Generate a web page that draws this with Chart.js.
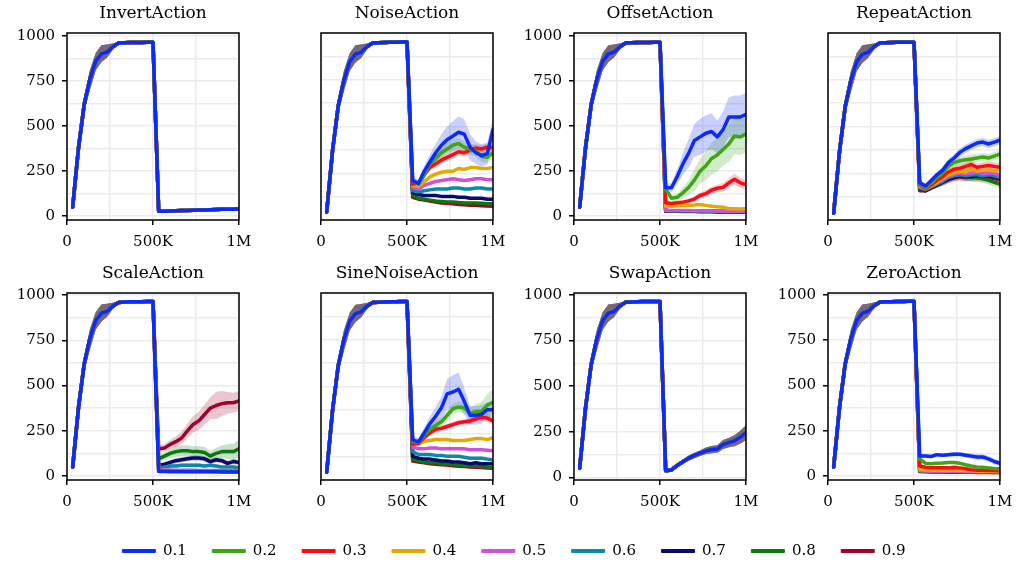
<!DOCTYPE html>
<html><head><meta charset="utf-8">
<script src="https://cdn.jsdelivr.net/npm/chart.js@4.4.0/dist/chart.umd.min.js"></script>
<style>
html,body{margin:0;padding:0;background:#fff;overflow:hidden;width:1018px;height:567px;}
canvas{position:absolute;}
</style></head><body>
<script>
// ---------- data ----------
const STEPS_K = [33,67,100,133,167,200,233,267,300,333,367,400,433,467,500,533,567,600,633,667,700,733,767,800,833,867,900,933,967,1000];
const SERIES = ['0.1','0.2','0.3','0.4','0.5','0.6','0.7','0.8','0.9'];
const COLORS = ['#0a2aff','#3ca614','#ff0a14','#e2aa00','#d050dc','#0a8aaa','#0a0a6e','#0a780a','#a0002a'];

// shared training phase (0 - 500K)
const PRE_MEAN = [50,380,620,760,860,900,910,940,960,962,963,964,964,965,965];
const PRE_LO   = [45,340,580,700,810,855,880,925,954,957,959,960,960,961,961];
const PRE_HI   = [55,420,660,810,905,948,952,958,967,967,968,968,968,969,969];

const THIN = [6,6,6,6,6,6,6,6,6,6,6,6,6,6,6];

// InvertAction (all noise levels overlap)
const INVERT_LINE = [28,28,29,30,31,32,33,34,35,36,37,38,38,39,40];
const INVERT_MEAN = [INVERT_LINE,INVERT_LINE,INVERT_LINE,INVERT_LINE,INVERT_LINE,INVERT_LINE,INVERT_LINE,INVERT_LINE,INVERT_LINE];
const INVERT_SPREAD = [THIN,THIN,THIN,THIN,THIN,THIN,THIN,THIN,THIN];

// NoiseAction
const NOISE_MEAN = [
  [220,205,270,320,370,410,440,460,480,470,400,370,355,365,495],
  [220,200,250,310,340,370,390,410,420,400,390,380,350,345,370],
  [200,210,250,290,310,330,345,360,375,370,385,395,390,400,395],
  [195,190,215,240,255,265,270,270,285,280,290,290,285,285,290],
  [185,175,195,205,215,220,225,230,225,220,225,230,230,225,225],
  [165,160,165,170,175,175,175,180,180,175,175,180,180,175,175],
  [155,145,140,140,140,135,135,135,130,130,125,125,125,120,120],
  [140,125,120,115,110,108,105,105,102,100,100,100,98,95,95],
  [130,120,115,110,105,100,98,95,92,90,88,87,85,83,82]
];
const NOISE_SPREAD = [
  [20,20,30,40,50,60,70,80,85,80,70,60,60,60,60],
  [15,15,20,25,30,30,30,30,30,30,30,30,30,30,30],
  [10,10,15,15,20,20,20,20,20,20,20,20,20,20,20],
  THIN,THIN,THIN,THIN,THIN,THIN
];

// OffsetAction
const OFFSET_MEAN = [
  [158,158,220,290,350,420,440,460,470,440,480,550,550,550,565],
  [150,100,105,130,160,200,250,280,320,340,370,400,445,440,455],
  [75,70,75,78,85,95,115,125,145,155,160,185,205,185,175],
  [55,55,58,60,60,62,65,60,55,52,50,42,42,40,42],
  [33,32,32,31,31,30,30,30,30,29,29,28,28,28,28],
  [30,30,30,29,29,29,28,28,28,27,27,27,26,26,26],
  [29,29,29,28,28,28,27,27,27,26,26,26,25,25,25],
  [28,28,28,27,27,27,26,26,26,25,25,25,25,24,24],
  [27,27,27,26,26,26,25,25,25,24,24,24,24,23,23]
];
const OFFSET_SPREAD = [
  [20,25,40,60,80,90,100,100,100,90,100,110,120,120,120],
  [15,15,20,30,40,60,70,80,90,90,90,100,100,100,100],
  [10,10,10,10,12,15,15,20,20,20,25,25,30,30,25],
  THIN,THIN,THIN,THIN,THIN,THIN
];

// RepeatAction
const REPEAT_MEAN = [
  [213,195,225,255,280,320,345,375,395,410,425,430,420,430,440],
  [205,185,210,240,265,300,320,330,335,340,345,350,345,355,365],
  [200,180,200,225,245,270,285,290,300,310,295,300,305,300,295],
  [195,180,195,215,235,255,265,275,270,285,275,280,280,275,285],
  [190,178,195,210,230,245,260,265,260,265,270,260,265,265,250],
  [185,175,190,205,220,240,250,255,250,255,255,250,255,250,240],
  [180,170,185,200,215,230,240,250,245,245,250,245,250,245,235],
  [175,170,185,200,215,235,245,255,245,240,240,235,225,215,205],
  [170,170,185,200,215,230,240,245,240,245,240,240,240,235,230]
];
const REPEAT_SP = [10,10,12,15,18,20,20,22,22,22,22,22,22,22,22];
const REPEAT_SPREAD = [REPEAT_SP,REPEAT_SP,REPEAT_SP,REPEAT_SP,REPEAT_SP,REPEAT_SP,REPEAT_SP,REPEAT_SP,REPEAT_SP];

// ScaleAction
const SCALE_MEAN = [
  [25,25,24,24,24,24,23,23,23,23,23,22,22,22,22],
  [27,27,26,26,26,25,25,25,25,25,24,24,24,24,24],
  [28,28,28,27,27,27,27,26,26,26,26,26,25,25,25],
  [30,30,30,29,29,29,29,28,28,28,28,28,27,27,27],
  [33,33,33,32,32,32,32,31,31,31,31,30,30,30,30],
  [45,50,55,55,60,60,60,60,55,60,55,50,50,50,45],
  [60,65,75,85,90,95,100,100,95,80,90,85,70,80,75],
  [95,110,125,135,140,140,135,135,130,110,125,135,135,135,150],
  [150,155,175,190,210,250,285,305,340,375,390,400,405,405,415]
];
const SCALE_SPREAD = [
  THIN,THIN,THIN,THIN,THIN,
  [10,10,10,10,10,10,10,10,10,10,10,10,10,10,10],
  [10,10,15,15,15,15,15,15,15,15,15,15,15,15,15],
  [15,20,25,30,30,30,30,30,30,30,30,35,40,45,50],
  [20,20,25,30,35,40,45,50,55,60,75,70,60,55,55]
];

// SineNoiseAction
const SINE_MEAN = [
  [223,212,260,310,350,395,470,480,495,430,355,355,360,385,385],
  [215,210,250,280,300,320,355,390,400,395,365,375,375,410,425],
  [200,205,235,260,280,285,295,305,315,320,325,335,345,340,325],
  [210,200,215,220,225,225,225,220,220,220,225,230,230,225,235],
  [185,175,175,180,180,175,175,175,175,175,170,170,170,168,165],
  [160,145,145,145,140,140,135,135,135,130,125,125,125,120,115],
  [135,125,120,120,115,110,110,105,105,100,95,100,95,95,95],
  [120,110,105,100,100,95,95,90,88,85,85,83,80,78,75],
  [110,105,100,95,92,90,88,85,82,80,78,77,75,73,70]
];
const SINE_SPREAD = [
  [20,20,30,40,50,60,80,90,90,70,50,50,50,40,40],
  [15,15,20,25,25,25,30,30,30,30,30,40,50,60,70],
  [10,10,12,15,15,15,15,15,15,15,15,15,20,20,20],
  THIN,THIN,THIN,THIN,THIN,THIN
];

// SwapAction (all noise levels overlap)
const SWAP_LINE = [36,40,65,85,105,120,132,145,152,155,180,190,200,220,245];
const SWAP_SP = [10,10,10,12,14,15,15,18,20,20,25,25,30,35,40];
const SWAP_MEAN = [SWAP_LINE,SWAP_LINE,SWAP_LINE,SWAP_LINE,SWAP_LINE,SWAP_LINE,SWAP_LINE,SWAP_LINE,SWAP_LINE];
const SWAP_SPREAD = [SWAP_SP,SWAP_SP,SWAP_SP,SWAP_SP,SWAP_SP,SWAP_SP,SWAP_SP,SWAP_SP,SWAP_SP];

// ZeroAction
const ZERO_MEAN = [
  [110,110,108,118,115,118,120,120,115,110,105,105,95,80,70],
  [95,70,68,70,72,75,75,70,62,55,50,48,45,42,40],
  [55,48,45,45,45,45,48,45,40,35,32,32,30,30,28],
  [38,35,33,32,32,32,32,31,30,29,28,27,26,26,25],
  [30,28,27,27,26,26,26,26,25,25,24,24,24,23,23],
  [28,27,26,26,25,25,25,25,24,24,23,23,23,22,22],
  [27,26,25,25,25,24,24,24,23,23,22,22,22,21,21],
  [26,25,24,24,24,23,23,23,22,22,21,21,21,20,20],
  [25,24,23,23,23,22,22,22,21,21,20,20,20,19,19]
];
const ZERO_SPREAD = [
  [10,10,10,10,10,12,12,12,12,15,15,15,15,15,15],
  THIN,THIN,THIN,THIN,THIN,THIN,THIN,THIN
];

const TITLES = ['InvertAction','NoiseAction','OffsetAction','RepeatAction','ScaleAction','SineNoiseAction','SwapAction','ZeroAction'];
const MEANS = [INVERT_MEAN,NOISE_MEAN,OFFSET_MEAN,REPEAT_MEAN,SCALE_MEAN,SINE_MEAN,SWAP_MEAN,ZERO_MEAN];
const SPREADS = [INVERT_SPREAD,NOISE_SPREAD,OFFSET_SPREAD,REPEAT_SPREAD,SCALE_SPREAD,SINE_SPREAD,SWAP_SPREAD,ZERO_SPREAD];
const Y_MIN = [-21,8,-21,13,-22,8,-15,-22];
const Y_MAX = [1016,1014,1016,1014,1012,1011,1011,1011];
const X_TICK_LABELS = {0:'0',500000:'500K',1000000:'1M'};

// ---------- layout ----------
const FONT = "'DejaVu Serif', serif";
const COL_LEFT = [67,321,574,828];
const ROW_TOP = [33,293];
const PLOT_W = 172, PLOT_H = 187;
const YAXIS_W = 62, TITLE_H = 33, XAXIS_H = 32, PAD_R = 16;

function rgba(hex, a){
  const n = parseInt(hex.slice(1),16);
  return `rgba(${(n>>16)&255},${(n>>8)&255},${n&255},${a})`;
}
function pts(arr){ return arr.map((v,j)=>({x:STEPS_K[j]*1000, y:v})); }

const framePlugin = {
  id:'frame',
  afterDraw(c){
    const a=c.chartArea, g=c.ctx;
    g.save(); g.strokeStyle='#000'; g.lineWidth=1.5;
    g.strokeRect(a.left,a.top,a.right-a.left,a.bottom-a.top);
    g.restore();
  }
};

TITLES.forEach((title,k)=>{
  const col=k%4, row=Math.floor(k/4);
  const cv=document.createElement('canvas');
  cv.width=YAXIS_W+PLOT_W+PAD_R; cv.height=TITLE_H+PLOT_H+XAXIS_H;
  cv.style.left=(COL_LEFT[col]-YAXIS_W)+'px';
  cv.style.top=(ROW_TOP[row]-TITLE_H)+'px';
  document.body.appendChild(cv);

  const datasets=[];
  for(let i=0;i<9;i++){
    const m=MEANS[k][i], s=SPREADS[k][i];
    const lo=PRE_LO.concat(m.map((v,j)=>v-s[j]));
    const hi=PRE_HI.concat(m.map((v,j)=>v+s[j]));
    const loIdx=datasets.length;
    datasets.push({data:pts(lo),borderWidth:0,borderColor:'transparent',pointRadius:0,fill:false,order:20});
    datasets.push({data:pts(hi),borderWidth:0,borderColor:'transparent',backgroundColor:rgba(COLORS[i],0.22),pointRadius:0,fill:loIdx,order:20});
  }
  for(let i=0;i<9;i++){
    datasets.push({label:SERIES[i],data:pts(PRE_MEAN.concat(MEANS[k][i])),borderColor:COLORS[i],borderWidth:3.5,
      pointRadius:0,fill:false,tension:0,borderJoinStyle:'round',borderCapStyle:'round',order:i});
  }

  new Chart(cv,{
    type:'line',
    data:{datasets},
    plugins:[framePlugin],
    options:{
      responsive:false, animation:false, events:[],
      layout:{padding:{left:0,right:PAD_R,top:0,bottom:0}},
      scales:{
        x:{type:'linear',min:0,max:1000000,
          afterFit:s=>{s.height=XAXIS_H; s.paddingLeft=0; s.paddingRight=0;},
          border:{display:false},
          grid:{color:'#ebebeb',lineWidth:1.5,tickLength:5,tickWidth:1.5,
            tickColor:c=>(c.tick && X_TICK_LABELS[c.tick.value]!==undefined)?'#000':'rgba(0,0,0,0)'},
          ticks:{stepSize:250000,autoSkip:false,maxRotation:0,padding:8,color:'#000',
            font:{family:FONT,size:15},
            callback:v=>X_TICK_LABELS[v]!==undefined?X_TICK_LABELS[v]:''}
        },
        y:{min:Y_MIN[k],max:Y_MAX[k],
          afterFit:s=>{s.width=YAXIS_W; s.paddingTop=0; s.paddingBottom=0;},
          border:{display:false},
          grid:{color:'#ebebeb',lineWidth:1.5,tickLength:5,tickWidth:1.5,
            tickColor:c=>(c.tick && c.tick.value%250===0)?'#000':'rgba(0,0,0,0)'},
          ticks:{stepSize:125,includeBounds:false,autoSkip:false,padding:7,color:'#000',
            font:{family:FONT,size:15},
            callback:v=>v%250===0?String(v):''}
        }
      },
      plugins:{
        legend:{display:false},
        tooltip:{enabled:false},
        title:{display:true,fullSize:false,text:title,color:'#000',
          font:{family:FONT,size:17,weight:'normal',lineHeight:1},
          padding:{top:5,bottom:11}}
      }
    }
  });
});

// ---------- legend ----------
const lc=document.createElement('canvas');
lc.width=1018; lc.height=140;
lc.style.left='5px'; lc.style.top='518px';
document.body.appendChild(lc);
new Chart(lc,{
  type:'line',
  data:{datasets:SERIES.map((s,i)=>({label:s,data:[],borderColor:COLORS[i],backgroundColor:COLORS[i],borderWidth:1}))},
  options:{
    responsive:false, animation:false, events:[],
    scales:{x:{display:false},y:{display:false}},
    plugins:{
      tooltip:{enabled:false},
      legend:{display:true,position:'top',
        labels:{boxWidth:33,boxHeight:3,padding:25.5,color:'#000',font:{family:FONT,size:15}}}
    }
  }
});
</script>
</body></html>
